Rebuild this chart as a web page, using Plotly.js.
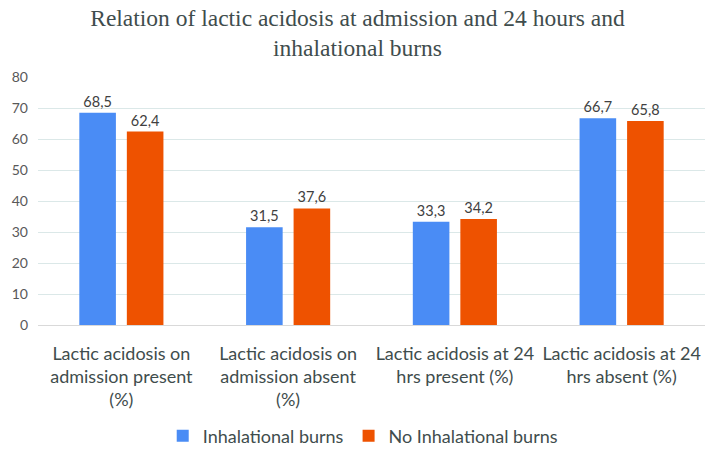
<!DOCTYPE html>
<html>
<head>
<meta charset="utf-8">
<script src="https://cdn.plot.ly/plotly-3.0.1.min.js"></script>
<style>
  html, body { margin: 0; padding: 0; background: #fff; }
  #chart { width: 715px; height: 458px; }
</style>
</head>
<body>
<div id="chart"></div>
<script>
// categorias (eixo x) e séries
const categories = [
  "Lactic acidosis on<br>admission present<br>(%)",
  "Lactic acidosis on<br>admission absent<br>(%)",
  "Lactic acidosis at 24<br>hrs present (%)",
  "Lactic acidosis at 24<br>hrs absent (%)"
];
const inhalational = [68.5, 31.5, 33.3, 66.7];
const noInhalational = [62.4, 37.6, 34.2, 65.8];
const yTicks = [0, 10, 20, 30, 40, 50, 60, 70, 80];

const sans = "Lato, 'Open Sans', sans-serif";
const textGray = "#3f4d4d";
const labelFont = { family: sans, size: 14.5, color: "#404040" };

const traces = [
  {
    x: categories,
    y: inhalational,
    name: "Inhalational burns",
    type: "bar",
    marker: { color: "#4a8cf5" },
    texttemplate: "%{y:.1f}",
    textposition: "outside",
    textfont: labelFont,
    cliponaxis: false,
    hoverinfo: "none"
  },
  {
    x: categories,
    y: noInhalational,
    name: "No Inhalational burns",
    type: "bar",
    marker: { color: "#ee5200" },
    texttemplate: "%{y:.1f}",
    textposition: "outside",
    textfont: labelFont,
    cliponaxis: false,
    hoverinfo: "none"
  }
];

const layout = {
  width: 715,
  height: 458,
  separators: ", ",
  paper_bgcolor: "#ffffff",
  plot_bgcolor: "#ffffff",
  title: {
    text: "Relation of lactic acidosis at admission and 24 hours and<br>inhalational burns",
    font: { family: "'Liberation Serif', 'Times New Roman', serif", size: 23.5, color: textGray },
    x: 0.5,
    xanchor: "center",
    y: 0.944,
    yanchor: "top"
  },
  barmode: "group",
  bargap: 0.43,
  bargroupgap: 0.23,
  margin: { l: 38, r: 10, t: 77, b: 133 },
  xaxis: {
    tickfont: { family: sans, size: 18, color: textGray },
    ticklabelstandoff: 12,
    showline: true,
    linecolor: "#d9d9d9",
    linewidth: 1,
    ticks: "",
    automargin: false
  },
  yaxis: {
    range: [0, 80],
    tickvals: yTicks,
    tickfont: { family: sans, size: 14, color: "#595959" },
    gridcolor: "#dbe8e8",
    zeroline: false,
    ticklabelstandoff: 9,
    automargin: false
  },
  showlegend: true,
  legend: {
    orientation: "h",
    xref: "container",
    yref: "container",
    x: 0.508,
    xanchor: "center",
    y: 0.048,
    yanchor: "middle",
    font: { family: sans, size: 18, color: textGray },
    itemwidth: 30
  }
};

Plotly.newPlot("chart", traces, layout, { staticPlot: true });
</script>
</body>
</html>
